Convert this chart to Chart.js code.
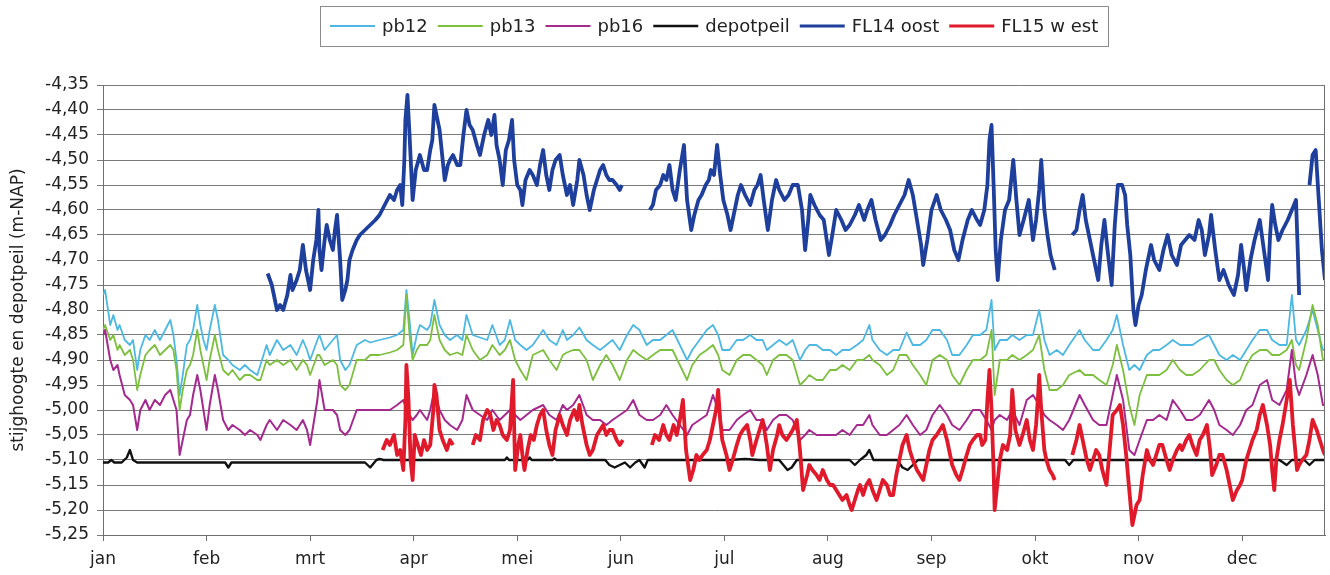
<!DOCTYPE html>
<html lang="nl">
<head>
<meta charset="utf-8">
<title>Stijghoogte en depotpeil</title>
<script src="https://cdn.jsdelivr.net/npm/chart.js@4.4.1/dist/chart.umd.min.js"></script>
<style>
    html, body { margin: 0; padding: 0; background: #fff; }
    #grafiek { width: 1330px; height: 575px; }
</style>
</head>
<body>
<div id="grafiek"><canvas id="stijghoogteChart"></canvas></div>
<script>
const maanden = ['jan', 'feb', 'mrt', 'apr', 'mei', 'jun', 'jul', 'aug', 'sep', 'okt', 'nov', 'dec'];

// tijd in maanden vanaf 1 januari (gedeeld door pb12, pb13 en pb16)
const tPb = [
    0.00, 0.02, 0.07, 0.10, 0.14, 0.16, 0.21, 0.26, 0.29, 0.33,
    0.36, 0.41, 0.45, 0.50, 0.55, 0.60, 0.65, 0.68, 0.71, 0.74,
    0.77, 0.81, 0.84, 0.87, 0.91, 0.94, 0.97, 1.00, 1.03, 1.08,
    1.11, 1.16, 1.21, 1.25, 1.32, 1.37, 1.42, 1.49, 1.52, 1.58,
    1.61, 1.68, 1.74, 1.81, 1.87, 1.93, 1.97, 2.00, 2.07, 2.09,
    2.14, 2.22, 2.26, 2.29, 2.34, 2.38, 2.45, 2.53, 2.58, 2.67,
    2.77, 2.84, 2.90, 2.93, 2.96, 2.99, 3.03, 3.06, 3.13, 3.16,
    3.20, 3.25, 3.30, 3.35, 3.42, 3.47, 3.51, 3.57, 3.64, 3.71,
    3.76, 3.83, 3.88, 3.93, 3.98, 4.03, 4.09, 4.15, 4.25, 4.31,
    4.38, 4.44, 4.48, 4.54, 4.60, 4.67, 4.73, 4.80, 4.86, 4.92,
    4.99, 5.06, 5.12, 5.18, 5.25, 5.31, 5.38, 5.44, 5.50, 5.57,
    5.64, 5.69, 5.76, 5.83, 5.89, 5.94, 5.98, 6.05, 6.12, 6.18,
    6.25, 6.31, 6.37, 6.41, 6.47, 6.53, 6.60, 6.66, 6.73, 6.78,
    6.82, 6.89, 6.95, 7.02, 7.08, 7.14, 7.21, 7.28, 7.34, 7.40,
    7.43, 7.50, 7.57, 7.63, 7.69, 7.76, 7.82, 7.89, 7.95, 8.01,
    8.08, 8.15, 8.20, 8.27, 8.34, 8.40, 8.47, 8.53, 8.58, 8.61,
    8.66, 8.73, 8.78, 8.85, 8.92, 8.98, 9.04, 9.09, 9.14, 9.21,
    9.27, 9.33, 9.43, 9.48, 9.56, 9.62, 9.69, 9.75, 9.79, 9.85,
    9.91, 9.96, 10.01, 10.08, 10.14, 10.20, 10.27, 10.33, 10.40, 10.46,
    10.52, 10.59, 10.68, 10.73, 10.78, 10.85, 10.91, 10.98, 11.04, 11.10,
    11.17, 11.24, 11.29, 11.36, 11.43, 11.48, 11.52, 11.55, 11.62, 11.68,
    11.73, 11.78, 11.80
];

const pb12 = [
    -4.77, -4.76, -4.83, -4.81, -4.84, -4.83, -4.86, -4.87, -4.86, -4.92,
    -4.88, -4.85, -4.86, -4.84, -4.86, -4.84, -4.82, -4.85, -4.90, -4.97,
    -4.93, -4.87, -4.86, -4.84, -4.79, -4.83, -4.86, -4.88, -4.84, -4.79,
    -4.82, -4.89, -4.90, -4.91, -4.92, -4.91, -4.92, -4.93, -4.91, -4.87,
    -4.89, -4.86, -4.88, -4.87, -4.89, -4.86, -4.88, -4.90, -4.86, -4.85,
    -4.88, -4.86, -4.85, -4.90, -4.92, -4.91, -4.87, -4.86, -4.865, -4.86,
    -4.855, -4.85, -4.84, -4.76, -4.82, -4.89, -4.85, -4.83, -4.84, -4.83,
    -4.78, -4.83, -4.85, -4.86, -4.85, -4.86, -4.81, -4.85, -4.855, -4.86,
    -4.83, -4.87, -4.86, -4.82, -4.86, -4.87, -4.88, -4.87, -4.84, -4.86,
    -4.87, -4.84, -4.86, -4.85, -4.835, -4.86, -4.87, -4.88, -4.87, -4.86,
    -4.88, -4.85, -4.83, -4.84, -4.87, -4.86, -4.86, -4.85, -4.84, -4.87,
    -4.90, -4.88, -4.86, -4.84, -4.83, -4.85, -4.88, -4.88, -4.86, -4.86,
    -4.85, -4.86, -4.86, -4.88, -4.87, -4.86, -4.87, -4.86, -4.90, -4.88,
    -4.87, -4.87, -4.88, -4.88, -4.89, -4.88, -4.88, -4.87, -4.86, -4.83,
    -4.86, -4.88, -4.89, -4.88, -4.88, -4.845, -4.87, -4.87, -4.86, -4.84,
    -4.84, -4.86, -4.89, -4.89, -4.87, -4.85, -4.85, -4.84, -4.78, -4.88,
    -4.86, -4.86, -4.85, -4.86, -4.85, -4.85, -4.80, -4.86, -4.89, -4.88,
    -4.89, -4.87, -4.84, -4.86, -4.88, -4.88, -4.86, -4.84, -4.81, -4.87,
    -4.92, -4.91, -4.92, -4.89, -4.88, -4.88, -4.87, -4.86, -4.87, -4.87,
    -4.87, -4.86, -4.85, -4.87, -4.89, -4.90, -4.89, -4.90, -4.88, -4.86,
    -4.84, -4.84, -4.86, -4.87, -4.87, -4.77, -4.86, -4.87, -4.84, -4.80,
    -4.84, -4.88, -4.88
];

const pb13 = [
    -4.84, -4.83, -4.86, -4.85, -4.88, -4.87, -4.89, -4.88, -4.90, -4.96,
    -4.93, -4.89, -4.88, -4.87, -4.89, -4.88, -4.87, -4.88, -4.92, -5.00,
    -4.96, -4.92, -4.91, -4.89, -4.84, -4.88, -4.91, -4.94, -4.90, -4.85,
    -4.88, -4.92, -4.93, -4.92, -4.94, -4.93, -4.93, -4.94, -4.94, -4.90,
    -4.91, -4.90, -4.91, -4.90, -4.92, -4.90, -4.91, -4.93, -4.89, -4.89,
    -4.91, -4.90, -4.91, -4.95, -4.96, -4.95, -4.90, -4.90, -4.89, -4.89,
    -4.885, -4.88, -4.87, -4.77, -4.85, -4.90, -4.88, -4.87, -4.87, -4.86,
    -4.81, -4.86, -4.88, -4.89, -4.885, -4.89, -4.85, -4.88, -4.90, -4.89,
    -4.87, -4.89, -4.88, -4.86, -4.90, -4.92, -4.94, -4.89, -4.88, -4.90,
    -4.92, -4.89, -4.885, -4.88, -4.88, -4.90, -4.94, -4.91, -4.89, -4.91,
    -4.94, -4.90, -4.88, -4.89, -4.90, -4.89, -4.88, -4.88, -4.88, -4.91,
    -4.94, -4.91, -4.89, -4.88, -4.87, -4.89, -4.92, -4.93, -4.90, -4.89,
    -4.89, -4.90, -4.91, -4.93, -4.90, -4.89, -4.89, -4.90, -4.95, -4.94,
    -4.93, -4.94, -4.94, -4.92, -4.92, -4.91, -4.92, -4.90, -4.90, -4.89,
    -4.90, -4.91, -4.93, -4.92, -4.89, -4.89, -4.91, -4.93, -4.95, -4.90,
    -4.89, -4.90, -4.93, -4.95, -4.92, -4.90, -4.90, -4.89, -4.84, -4.97,
    -4.90, -4.90, -4.89, -4.90, -4.89, -4.88, -4.85, -4.92, -4.96, -4.96,
    -4.95, -4.93, -4.92, -4.93, -4.93, -4.94, -4.95, -4.91, -4.87, -4.92,
    -4.99, -5.03, -4.97, -4.93, -4.93, -4.93, -4.92, -4.90, -4.92, -4.93,
    -4.93, -4.92, -4.90, -4.90, -4.92, -4.94, -4.95, -4.94, -4.91, -4.89,
    -4.88, -4.88, -4.89, -4.89, -4.88, -4.86, -4.91, -4.92, -4.86, -4.79,
    -4.83, -4.90, -4.90
];

const pb16 = [
    -4.85, -4.84, -4.90, -4.92, -4.91, -4.93, -4.97, -4.98, -4.99, -5.04,
    -5.00, -4.98, -5.00, -4.98, -4.99, -4.97, -4.96, -4.98, -5.00, -5.09,
    -5.06, -5.02, -5.01, -4.97, -4.93, -4.96, -5.00, -5.04, -4.99, -4.93,
    -4.96, -5.02, -5.04, -5.03, -5.04, -5.05, -5.04, -5.05, -5.06, -5.03,
    -5.02, -5.04, -5.02, -5.03, -5.04, -5.02, -5.04, -5.07, -4.98, -4.94,
    -5.00, -5.00, -5.01, -5.04, -5.05, -5.04, -5.00, -5.00, -5.00, -5.00,
    -5.00, -4.99, -4.98, -5.00, -5.01, -5.02, -5.01, -5.00, -5.02, -5.00,
    -4.96, -5.00, -5.02, -5.03, -5.04, -5.02, -4.97, -5.00, -5.01, -5.02,
    -5.00, -5.02, -5.01, -5.00, -5.01, -5.02, -5.01, -5.00, -4.99, -5.01,
    -5.02, -4.99, -5.00, -4.99, -4.97, -5.01, -5.02, -5.02, -5.03, -5.02,
    -5.01, -5.00, -4.98, -5.01, -5.02, -5.02, -5.01, -4.99, -5.01, -5.03,
    -5.05, -5.03, -5.02, -5.01, -4.97, -5.00, -5.04, -5.04, -5.02, -5.01,
    -5.00, -5.02, -5.02, -5.04, -5.02, -5.01, -5.01, -5.02, -5.06, -5.05,
    -5.04, -5.05, -5.05, -5.05, -5.05, -5.04, -5.05, -5.03, -5.03, -5.01,
    -5.03, -5.05, -5.05, -5.04, -5.03, -5.01, -5.03, -5.05, -5.04, -5.01,
    -4.99, -5.01, -5.03, -5.04, -5.02, -5.00, -5.00, -5.02, -5.04, -5.02,
    -5.01, -5.02, -5.00, -5.03, -4.98, -4.97, -4.99, -5.01, -5.02, -5.03,
    -5.04, -5.02, -4.97, -4.99, -5.02, -5.03, -5.03, -4.97, -4.93, -4.98,
    -5.08, -5.09, -5.06, -5.02, -5.02, -5.01, -5.02, -4.98, -5.00, -5.02,
    -5.02, -5.01, -4.98, -5.00, -5.03, -5.04, -5.05, -5.03, -5.00, -4.99,
    -4.95, -4.94, -4.98, -4.99, -4.96, -4.88, -4.95, -4.97, -4.93, -4.89,
    -4.93, -4.99, -4.99
];

// [maand, peil]
const depotpeil = [
    [0.00, -5.105], [0.05, -5.105], [0.08, -5.10], [0.11, -5.105], [0.18, -5.105],
    [0.23, -5.095], [0.26, -5.08], [0.29, -5.10], [0.33, -5.105], [1.18, -5.105],
    [1.21, -5.115], [1.24, -5.105], [2.53, -5.105], [2.58, -5.115], [2.64, -5.10],
    [2.67, -5.098], [2.71, -5.10], [3.88, -5.10], [3.90, -5.095], [3.92, -5.10],
    [4.10, -5.10], [4.12, -5.095], [4.14, -5.10], [4.34, -5.10], [4.36, -5.097],
    [4.38, -5.10], [4.85, -5.10], [4.89, -5.11], [4.94, -5.115], [4.99, -5.11],
    [5.04, -5.105], [5.09, -5.115], [5.14, -5.105], [5.18, -5.10], [5.23, -5.115],
    [5.26, -5.10], [5.76, -5.10], [6.05, -5.10], [6.20, -5.098], [6.34, -5.10],
    [6.53, -5.10], [6.61, -5.12], [6.65, -5.115], [6.70, -5.10], [7.21, -5.10],
    [7.26, -5.11], [7.31, -5.10], [7.37, -5.09], [7.40, -5.08], [7.44, -5.10],
    [7.67, -5.10], [7.72, -5.115], [7.77, -5.12], [7.82, -5.11], [7.87, -5.10],
    [9.29, -5.10], [9.33, -5.11], [9.37, -5.10], [11.36, -5.10], [11.43, -5.11],
    [11.48, -5.10], [11.60, -5.10], [11.65, -5.11], [11.70, -5.10], [11.80, -5.10]
];

const fl14Oost = [
    [1.59, -4.727], [1.63, -4.75], [1.68, -4.80], [1.71, -4.79], [1.74, -4.80], [1.78, -4.77],
    [1.81, -4.73], [1.83, -4.76], [1.87, -4.74], [1.90, -4.72], [1.93, -4.67], [1.96, -4.72],
    [2.00, -4.76], [2.03, -4.70], [2.06, -4.66], [2.08, -4.60], [2.09, -4.68], [2.11, -4.72],
    [2.14, -4.66], [2.16, -4.63], [2.19, -4.66], [2.22, -4.68], [2.24, -4.64], [2.26, -4.61],
    [2.29, -4.70], [2.31, -4.78], [2.34, -4.76], [2.36, -4.74], [2.38, -4.70], [2.41, -4.68],
    [2.45, -4.66], [2.48, -4.65], [2.53, -4.64], [2.58, -4.63], [2.63, -4.62], [2.67, -4.61],
    [2.72, -4.59], [2.77, -4.57], [2.81, -4.58], [2.84, -4.56], [2.87, -4.55], [2.89, -4.59],
    [2.91, -4.50], [2.92, -4.42], [2.94, -4.37], [2.96, -4.45], [2.99, -4.58], [3.02, -4.52],
    [3.06, -4.49], [3.10, -4.52], [3.13, -4.52], [3.16, -4.48], [3.18, -4.46], [3.20, -4.39],
    [3.23, -4.42], [3.25, -4.44], [3.28, -4.50], [3.30, -4.54], [3.33, -4.51], [3.35, -4.50],
    [3.38, -4.49], [3.42, -4.51], [3.45, -4.51], [3.48, -4.45], [3.51, -4.40], [3.54, -4.43],
    [3.57, -4.44], [3.61, -4.47], [3.64, -4.49], [3.68, -4.45], [3.72, -4.42], [3.75, -4.45],
    [3.78, -4.41], [3.80, -4.47], [3.83, -4.50], [3.86, -4.55], [3.89, -4.48], [3.92, -4.46],
    [3.95, -4.42], [3.97, -4.50], [4.00, -4.55], [4.03, -4.56], [4.05, -4.59], [4.08, -4.54],
    [4.12, -4.52], [4.15, -4.53], [4.19, -4.55], [4.22, -4.51], [4.25, -4.48], [4.28, -4.53],
    [4.31, -4.56], [4.34, -4.52], [4.37, -4.50], [4.41, -4.49], [4.44, -4.53], [4.48, -4.57],
    [4.51, -4.55], [4.54, -4.59], [4.58, -4.54], [4.60, -4.50], [4.64, -4.53], [4.67, -4.57],
    [4.70, -4.60], [4.74, -4.56], [4.77, -4.54], [4.80, -4.52], [4.83, -4.51], [4.86, -4.53],
    [4.89, -4.54], [4.92, -4.54], [4.96, -4.55], [4.99, -4.56], [5.01, -4.55],
    [5.10, null],
    [5.28, -4.60], [5.31, -4.59], [5.34, -4.56], [5.38, -4.55], [5.41, -4.53], [5.44, -4.54],
    [5.47, -4.51], [5.50, -4.56], [5.53, -4.58], [5.57, -4.52], [5.61, -4.47], [5.64, -4.58],
    [5.68, -4.64], [5.71, -4.61], [5.75, -4.58], [5.78, -4.57], [5.82, -4.55], [5.85, -4.54],
    [5.87, -4.52], [5.90, -4.53], [5.93, -4.47], [5.96, -4.53], [5.99, -4.58], [6.03, -4.61],
    [6.06, -4.64], [6.10, -4.60], [6.13, -4.57], [6.16, -4.55], [6.20, -4.57], [6.25, -4.59],
    [6.29, -4.56], [6.32, -4.55], [6.35, -4.53], [6.38, -4.58], [6.42, -4.64], [6.46, -4.58],
    [6.50, -4.54], [6.53, -4.56], [6.58, -4.58], [6.62, -4.57], [6.66, -4.55], [6.71, -4.55],
    [6.75, -4.60], [6.78, -4.68], [6.81, -4.62], [6.83, -4.57], [6.87, -4.59], [6.92, -4.61],
    [6.96, -4.62], [7.01, -4.69], [7.05, -4.64], [7.08, -4.60], [7.13, -4.62], [7.17, -4.64],
    [7.21, -4.63], [7.26, -4.61], [7.30, -4.59], [7.35, -4.62], [7.38, -4.60], [7.42, -4.58],
    [7.46, -4.62], [7.51, -4.66], [7.55, -4.65], [7.60, -4.63], [7.64, -4.61], [7.69, -4.59],
    [7.74, -4.57], [7.78, -4.54], [7.82, -4.57], [7.86, -4.62], [7.90, -4.67], [7.92, -4.71],
    [7.96, -4.66], [8.00, -4.60], [8.05, -4.57], [8.09, -4.60], [8.14, -4.62], [8.18, -4.64],
    [8.22, -4.68], [8.26, -4.70], [8.30, -4.66], [8.35, -4.62], [8.39, -4.60], [8.44, -4.62],
    [8.47, -4.63], [8.51, -4.60], [8.54, -4.55], [8.56, -4.46], [8.58, -4.43], [8.60, -4.55],
    [8.62, -4.68], [8.64, -4.74], [8.67, -4.66], [8.71, -4.60], [8.75, -4.58], [8.77, -4.54],
    [8.79, -4.50], [8.82, -4.58], [8.85, -4.65], [8.89, -4.62], [8.94, -4.58], [8.98, -4.66],
    [9.01, -4.62], [9.04, -4.56], [9.06, -4.50], [9.09, -4.60], [9.12, -4.65], [9.15, -4.69],
    [9.19, -4.72],
    [9.27, null],
    [9.36, -4.65], [9.40, -4.64], [9.43, -4.60], [9.46, -4.57], [9.49, -4.62], [9.53, -4.66],
    [9.57, -4.70], [9.61, -4.74], [9.64, -4.67], [9.67, -4.62], [9.70, -4.68], [9.74, -4.75],
    [9.77, -4.63], [9.80, -4.55], [9.84, -4.55], [9.87, -4.57], [9.89, -4.63], [9.92, -4.69],
    [9.95, -4.80], [9.97, -4.83], [10.00, -4.79], [10.03, -4.77], [10.07, -4.72], [10.12, -4.67],
    [10.15, -4.70], [10.20, -4.72], [10.24, -4.68], [10.28, -4.65], [10.32, -4.69], [10.37, -4.71],
    [10.41, -4.67], [10.45, -4.66], [10.49, -4.65], [10.54, -4.66], [10.58, -4.62], [10.61, -4.64],
    [10.64, -4.69], [10.68, -4.65], [10.70, -4.61], [10.74, -4.68], [10.78, -4.74], [10.82, -4.72],
    [10.87, -4.75], [10.92, -4.77], [10.96, -4.73], [10.99, -4.67], [11.02, -4.72], [11.04, -4.76],
    [11.08, -4.70], [11.12, -4.66], [11.17, -4.62], [11.21, -4.68], [11.25, -4.74], [11.27, -4.65],
    [11.29, -4.59], [11.32, -4.63], [11.35, -4.66], [11.39, -4.64], [11.44, -4.62], [11.48, -4.60],
    [11.52, -4.58], [11.54, -4.70], [11.55, -4.77],
    [11.60, null],
    [11.65, -4.55], [11.68, -4.49], [11.71, -4.48], [11.74, -4.58], [11.77, -4.68], [11.80, -4.74]
];

const fl15West = [
    [2.70, -5.08], [2.74, -5.06], [2.77, -5.07], [2.81, -5.05], [2.84, -5.09], [2.87, -5.08],
    [2.90, -5.12], [2.92, -5.02], [2.93, -4.91], [2.95, -4.98], [2.97, -5.10], [2.99, -5.14],
    [3.01, -5.05], [3.04, -5.07], [3.07, -5.09], [3.10, -5.06], [3.13, -5.08], [3.16, -5.07],
    [3.19, -5.00], [3.20, -4.95], [3.22, -4.97], [3.25, -5.04], [3.28, -5.06], [3.32, -5.08],
    [3.35, -5.06], [3.38, -5.07],
    [3.47, null],
    [3.57, -5.07], [3.60, -5.05], [3.64, -5.06], [3.67, -5.02], [3.71, -5.00], [3.74, -5.01],
    [3.77, -5.04], [3.80, -5.02], [3.83, -5.03], [3.86, -5.05], [3.90, -5.06], [3.93, -5.04],
    [3.96, -4.94], [3.98, -5.12], [4.01, -5.07], [4.03, -5.05], [4.05, -5.09], [4.07, -5.12],
    [4.10, -5.08], [4.13, -5.05], [4.16, -5.06], [4.19, -5.03], [4.22, -5.01], [4.25, -5.00],
    [4.28, -5.04], [4.31, -5.07], [4.34, -5.09], [4.37, -5.04], [4.41, -5.01], [4.44, -5.03],
    [4.48, -5.05], [4.51, -5.02], [4.55, -5.00], [4.58, -5.02], [4.60, -4.99], [4.63, -5.03],
    [4.67, -5.07], [4.70, -5.09], [4.73, -5.08], [4.77, -5.05], [4.80, -5.04], [4.83, -5.03],
    [4.86, -5.05], [4.89, -5.04], [4.92, -5.04], [4.96, -5.06], [4.99, -5.07], [5.02, -5.06],
    [5.15, null],
    [5.30, -5.07], [5.33, -5.05], [5.37, -5.06], [5.41, -5.03], [5.44, -5.05], [5.47, -5.06],
    [5.51, -5.03], [5.54, -5.05], [5.57, -5.02], [5.60, -4.98], [5.63, -5.08], [5.67, -5.14],
    [5.70, -5.12], [5.73, -5.09], [5.76, -5.10], [5.79, -5.09], [5.83, -5.08], [5.86, -5.06],
    [5.89, -5.03], [5.92, -5.00], [5.94, -4.96], [5.96, -5.02], [5.98, -5.06], [6.02, -5.09],
    [6.05, -5.12], [6.08, -5.10], [6.12, -5.07], [6.15, -5.05], [6.18, -5.04], [6.22, -5.03],
    [6.25, -5.06], [6.27, -5.09], [6.31, -5.06], [6.34, -5.04], [6.37, -5.02], [6.41, -5.07],
    [6.44, -5.12], [6.47, -5.08], [6.51, -5.05], [6.53, -5.03], [6.56, -5.05], [6.60, -5.06],
    [6.63, -5.05], [6.66, -5.04], [6.70, -5.02], [6.73, -5.08], [6.76, -5.16], [6.80, -5.13],
    [6.82, -5.11], [6.85, -5.12], [6.89, -5.13], [6.92, -5.14], [6.95, -5.12], [6.99, -5.14],
    [7.02, -5.15], [7.05, -5.15], [7.08, -5.16], [7.11, -5.17], [7.14, -5.18], [7.18, -5.17],
    [7.21, -5.19], [7.23, -5.20], [7.26, -5.18], [7.29, -5.16], [7.31, -5.15], [7.34, -5.17],
    [7.37, -5.15], [7.40, -5.14], [7.43, -5.16], [7.47, -5.18], [7.50, -5.16], [7.53, -5.14],
    [7.57, -5.15], [7.60, -5.17], [7.63, -5.17], [7.66, -5.13], [7.69, -5.10], [7.72, -5.07],
    [7.76, -5.05], [7.79, -5.08], [7.82, -5.10], [7.86, -5.12], [7.89, -5.13], [7.92, -5.14],
    [7.95, -5.11], [7.98, -5.08], [8.01, -5.06], [8.05, -5.05], [8.08, -5.04], [8.11, -5.03],
    [8.15, -5.06], [8.18, -5.09], [8.20, -5.11], [8.24, -5.13], [8.27, -5.14], [8.30, -5.12],
    [8.34, -5.09], [8.37, -5.07], [8.40, -5.06], [8.44, -5.05], [8.47, -5.05], [8.49, -5.07],
    [8.52, -5.06], [8.54, -4.98], [8.56, -4.92], [8.58, -5.00], [8.60, -5.12], [8.61, -5.20],
    [8.63, -5.16], [8.66, -5.10], [8.69, -5.07], [8.73, -5.08], [8.76, -5.05], [8.78, -4.96],
    [8.81, -5.04], [8.85, -5.07], [8.88, -5.05], [8.92, -5.02], [8.95, -5.06], [8.98, -5.08],
    [9.01, -5.03], [9.03, -4.97], [9.04, -4.93], [9.06, -5.00], [9.09, -5.08], [9.11, -5.10],
    [9.14, -5.12], [9.17, -5.13], [9.19, -5.14],
    [9.27, null],
    [9.36, -5.09], [9.40, -5.06], [9.43, -5.03], [9.46, -5.06], [9.50, -5.10], [9.53, -5.12],
    [9.56, -5.10], [9.59, -5.08], [9.62, -5.09], [9.65, -5.12], [9.69, -5.15], [9.72, -5.08],
    [9.75, -5.01], [9.79, -5.00], [9.82, -4.99], [9.85, -5.03], [9.88, -5.09], [9.91, -5.16],
    [9.94, -5.23], [9.96, -5.21], [9.98, -5.19], [10.01, -5.18], [10.04, -5.13], [10.08, -5.08],
    [10.11, -5.10], [10.14, -5.11], [10.17, -5.09], [10.20, -5.07], [10.23, -5.07], [10.27, -5.10],
    [10.30, -5.12], [10.33, -5.10], [10.37, -5.08], [10.40, -5.07], [10.42, -5.08], [10.46, -5.06],
    [10.49, -5.05], [10.52, -5.07], [10.56, -5.09], [10.59, -5.06], [10.62, -5.05], [10.66, -5.03],
    [10.69, -5.08], [10.71, -5.13], [10.75, -5.11], [10.78, -5.09], [10.81, -5.09], [10.85, -5.12],
    [10.88, -5.15], [10.91, -5.18], [10.95, -5.16], [10.98, -5.15], [11.00, -5.14], [11.04, -5.10],
    [11.07, -5.08], [11.10, -5.06], [11.14, -5.04], [11.17, -5.01], [11.20, -4.99], [11.24, -5.03],
    [11.27, -5.07], [11.29, -5.12], [11.31, -5.16], [11.33, -5.10], [11.36, -5.06], [11.39, -5.03],
    [11.43, -4.98], [11.46, -4.94], [11.49, -5.03], [11.53, -5.12], [11.55, -5.11], [11.58, -5.10],
    [11.62, -5.09], [11.65, -5.06], [11.68, -5.02], [11.72, -5.04], [11.75, -5.06], [11.78, -5.08],
    [11.80, -5.09]
];

function reeks(tijden, waarden) {
    const n = Math.min(tijden.length, waarden.length);
    const punten = [];
    for (let i = 0; i < n; i++) {
        punten.push({ x: tijden[i], y: waarden[i] });
    }
    return punten;
}

function paren(lijst) {
    return lijst.map(p => ({ x: p[0], y: p[1] }));
}

// legenda met kader, gecentreerd boven het plotvlak
const legendaKader = {
    id: 'legendaKader',
    afterDraw(chart) {
        const ctx = chart.ctx;
        const sets = chart.data.datasets;
        const lijn = 45, gat = 7, tussen = 10, rand = 10;
        ctx.save();
        ctx.font = '18px "DejaVu Sans"';
        let breedte = rand * 2 - tussen;
        sets.forEach(ds => breedte += lijn + gat + ctx.measureText(ds.label).width + tussen);
        const midden = (chart.chartArea.left + chart.chartArea.right) / 2;
        let x = Math.round(midden - breedte / 2);
        const top = 6, hoogte = 40, y = top + hoogte / 2;

        ctx.fillStyle = '#ffffff';
        ctx.fillRect(x, top, breedte, hoogte);
        ctx.strokeStyle = '#8c8c8c';
        ctx.lineWidth = 1;
        ctx.strokeRect(x + 0.5, top + 0.5, Math.round(breedte), hoogte);

        x += rand;
        sets.forEach(ds => {
            ctx.strokeStyle = ds.borderColor;
            ctx.lineWidth = Math.min(ds.borderWidth, 3);
            ctx.beginPath();
            ctx.moveTo(x, y);
            ctx.lineTo(x + lijn, y);
            ctx.stroke();
            x += lijn + gat;
            ctx.fillStyle = '#222';
            ctx.textBaseline = 'middle';
            ctx.fillText(ds.label, x, y + 1);
            x += ctx.measureText(ds.label).width + tussen;
        });
        ctx.restore();
    }
};

// rechterrand van het plotvlak
const plotRand = {
    id: 'plotRand',
    afterDraw(chart) {
        const { ctx, chartArea } = chart;
        ctx.save();
        ctx.strokeStyle = '#6e6e6e';
        ctx.lineWidth = 1;
        ctx.beginPath();
        ctx.moveTo(Math.round(chartArea.right) - 0.5, chartArea.top);
        ctx.lineTo(Math.round(chartArea.right) - 0.5, chartArea.bottom);
        ctx.stroke();
        ctx.restore();
    }
};

Chart.defaults.font.family = '"DejaVu Sans", sans-serif';
Chart.defaults.color = '#222';

const ctx = document.getElementById('stijghoogteChart').getContext('2d');

const stijghoogteChart = new Chart(ctx, {
    type: 'line',
    data: {
        datasets: [
            {
                label: 'pb12',
                data: reeks(tPb, pb12),
                borderColor: '#4db8e2',
                borderWidth: 1.8,
                order: 5
            },
            {
                label: 'pb13',
                data: reeks(tPb, pb13),
                borderColor: '#7dbf3f',
                borderWidth: 1.8,
                order: 4
            },
            {
                label: 'pb16',
                data: reeks(tPb, pb16),
                borderColor: '#a52a8e',
                borderWidth: 2,
                order: 3
            },
            {
                label: 'depotpeil',
                data: paren(depotpeil),
                borderColor: '#111111',
                borderWidth: 2.4,
                order: 2
            },
            {
                label: 'FL14 oost',
                data: paren(fl14Oost),
                borderColor: '#1e3f9c',
                borderWidth: 3.8,
                order: 1
            },
            {
                label: 'FL15 w est',
                data: paren(fl15West),
                borderColor: '#e0192b',
                borderWidth: 3.8,
                order: 0
            }
        ]
    },
    options: {
        responsive: true,
        maintainAspectRatio: false,
        animation: false,
        spanGaps: false,
        elements: {
            point: { radius: 0 },
            line: { tension: 0, borderJoinStyle: 'round' }
        },
        layout: {
            padding: { top: 85, right: 5, left: 0, bottom: 0 }
        },
        plugins: {
            legend: { display: false },
            tooltip: { enabled: false }
        },
        scales: {
            x: {
                type: 'linear',
                min: 0,
                max: 11.8,
                afterBuildTicks: scale => {
                    scale.ticks = maanden.map((m, i) => ({ value: i }));
                },
                afterFit: scale => {
                    scale.height = 40;
                },
                ticks: {
                    autoSkip: false,
                    maxRotation: 0,
                    padding: 8,
                    font: { size: 17 },
                    callback: value => maanden[value]
                },
                grid: {
                    drawOnChartArea: false,
                    color: '#6e6e6e',
                    tickLength: 6
                },
                border: { color: '#6e6e6e' }
            },
            y: {
                min: -5.25,
                max: -4.35,
                afterFit: scale => {
                    scale.width = 103;
                },
                ticks: {
                    stepSize: 0.05,
                    padding: 8,
                    font: { size: 17 },
                    callback: value => Number(value).toFixed(2).replace('.', ',')
                },
                grid: {
                    color: '#7a7a7a',
                    tickLength: 6
                },
                border: { color: '#6e6e6e' },
                title: {
                    display: true,
                    text: 'stijghoogte en depotpeil (m-NAP)',
                    font: { size: 17 },
                    padding: { top: 8, bottom: 0 }
                }
            }
        }
    },
    plugins: [legendaKader, plotRand]
});
</script>
</body>
</html>
